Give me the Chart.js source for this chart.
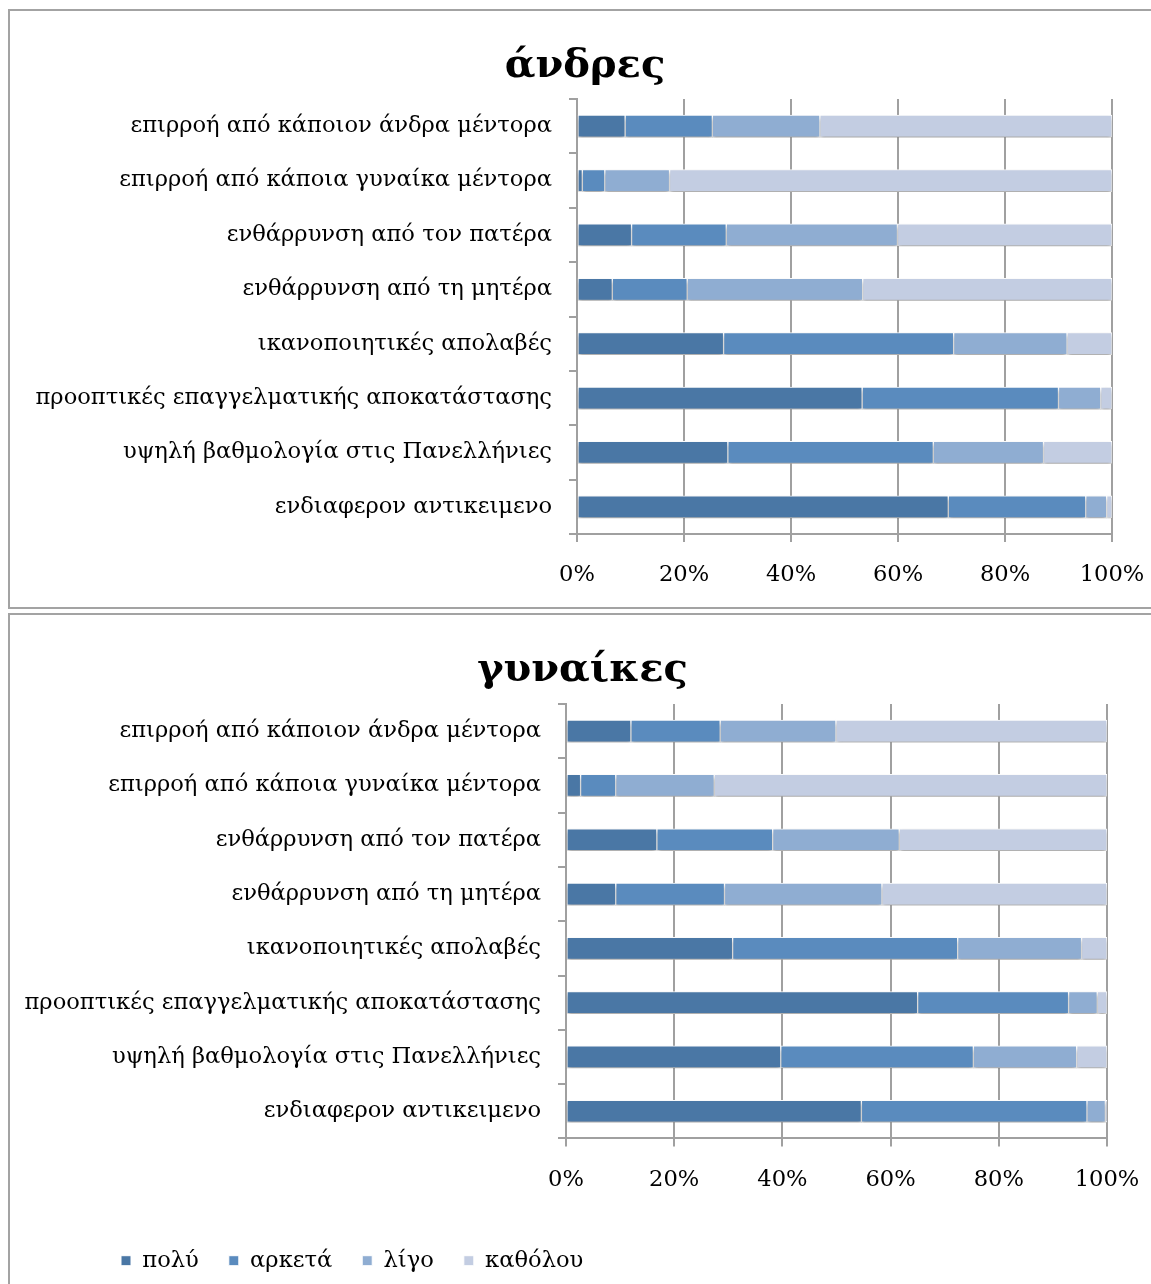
<!DOCTYPE html>
<html>
<head>
<meta charset="utf-8">
<script src="https://cdn.jsdelivr.net/npm/chart.js@4"></script>
<style>
  body { margin: 0; background: #fff; overflow: hidden; width: 1151px; height: 1284px; position: relative; }
  .frame { position: absolute; border: 2px solid #a3a3a3; box-sizing: border-box; }
  canvas { position: absolute; left: 0; }
</style>
</head>
<body>
<div class="frame" style="left:8px; top:9px; width:1160px; height:600px;"></div>
<div class="frame" style="left:8px; top:613px; width:1160px; height:700px;"></div>
<canvas id="men" width="1151" height="607" style="top:0px;"></canvas>
<canvas id="women" width="1151" height="674" style="top:610px;"></canvas>
<script>
var categories = [
    "επιρροή από κάποιον άνδρα μέντορα",
    "επιρροή από κάποια γυναίκα μέντορα",
    "ενθάρρυνση από τον πατέρα",
    "ενθάρρυνση από τη μητέρα",
    "ικανοποιητικές απολαβές",
    "προοπτικές επαγγελματικής αποκατάστασης",
    "υψηλή βαθμολογία στις Πανελλήνιες",
    "ενδιαφερον αντικειμενο"
];
var seriesNames = ["πολύ", "αρκετά", "λίγο", "καθόλου"];
var seriesColors = ['#4a77a5', '#5a8bbe', '#8fadd2', '#c3cde2'];

// άνδρες (%)
var menPoly     = [9.0, 1.0, 10.2, 6.6, 27.4, 53.3, 28.2, 69.4];
var menArketa   = [16.3, 4.2, 17.7, 14.0, 43.0, 36.7, 38.4, 25.7];
var menLigo     = [20.1, 12.1, 32.0, 32.8, 21.2, 7.9, 20.6, 3.9];
var menKatholou = [54.6, 82.7, 40.1, 46.6, 8.4, 2.1, 12.8, 1.0];

// γυναίκες (%)
var womenPoly     = [12.0, 2.7, 16.8, 9.2, 30.8, 65.0, 39.7, 54.6];
var womenArketa   = [16.5, 6.5, 21.4, 20.1, 41.6, 27.9, 35.6, 41.7];
var womenLigo     = [21.4, 18.2, 23.4, 29.1, 22.9, 5.3, 19.1, 3.4];
var womenKatholou = [50.1, 72.6, 38.4, 41.6, 4.7, 1.8, 5.6, 0.3];

Chart.defaults.font.family = '"DejaVu Serif", "Liberation Serif", serif';
Chart.defaults.color = '#000';

var labelSize = 22.6;

var shadowPlugin = {
    id: 'barShadow',
    beforeDatasetsDraw: function(chart) {
        var c = chart.ctx;
        c.save();
        c.shadowColor = 'rgba(0,0,0,0.35)';
        c.shadowBlur = 4;
        c.shadowOffsetY = 3;
    },
    afterDatasetsDraw: function(chart) {
        chart.ctx.restore();
    }
};

// title sits a bit right of centre, legend further right than the label column
var nudgePlugin = {
    id: 'nudge',
    afterLayout: function(chart) {
        if (chart.titleBlock) {
            chart.titleBlock.left += 48;
        }
        if (chart.legend && chart.options.plugins.legend.display) {
            chart.legend.left = 91;
        }
    }
};

function makeDatasets(series) {
    return series.map(function(values, i) {
        return {
            label: seriesNames[i],
            data: values,
            backgroundColor: seriesColors[i],
            borderColor: '#ffffff',
            borderWidth: 1,
            borderSkipped: false,
            barThickness: 22
        };
    });
}

function makeOptions(cfg) {
    return {
        responsive: false,
        animation: false,
        indexAxis: 'y',
        layout: { padding: cfg.padding },
        plugins: {
            title: {
                display: true,
                text: cfg.title,
                font: { size: 40, weight: 'bold' },
                color: '#000',
                padding: cfg.titlePadding
            },
            legend: {
                display: cfg.legend,
                position: 'bottom',
                align: 'start',
                labels: {
                    boxWidth: 10,
                    boxHeight: 10,
                    padding: 30,
                    font: { size: labelSize }
                }
            },
            tooltip: { enabled: false }
        },
        scales: {
            x: {
                stacked: true,
                min: 0,
                max: 100,
                ticks: {
                    stepSize: 20,
                    padding: 20,
                    font: { size: labelSize },
                    callback: function(value) { return value + '%'; }
                },
                grid: { color: '#a0a0a0', lineWidth: 2, tickLength: 8 },
                border: { color: '#a0a0a0', width: 2 },
                afterFit: function(scale) {
                    scale.height = cfg.xHeight;
                    scale.paddingLeft = 0;
                    scale.paddingRight = 0;
                }
            },
            y: {
                stacked: true,
                ticks: { padding: 17, font: { size: labelSize } },
                grid: { drawOnChartArea: false, color: '#a0a0a0', lineWidth: 2, tickLength: 8 },
                border: { color: '#a0a0a0', width: 2 },
                afterFit: function(scale) { scale.width = cfg.yWidth; }
            }
        }
    };
}

var menChart = new Chart(document.getElementById('men').getContext('2d'), {
    type: 'bar',
    data: {
        labels: categories,
        datasets: makeDatasets([menPoly, menArketa, menLigo, menKatholou])
    },
    options: makeOptions({
        title: 'άνδρες',
        padding: { top: 10, left: 10, right: 39, bottom: 16 },
        titlePadding: { top: 33, bottom: 8 },
        legend: false,
        xHeight: 57,
        yWidth: 567
    }),
    plugins: [shadowPlugin, nudgePlugin]
});

var womenChart = new Chart(document.getElementById('women').getContext('2d'), {
    type: 'bar',
    data: {
        labels: categories,
        datasets: makeDatasets([womenPoly, womenArketa, womenLigo, womenKatholou])
    },
    options: makeOptions({
        title: 'γυναίκες',
        padding: { top: 0, left: 10, right: 44, bottom: 2 },
        titlePadding: { top: 37, bottom: 9 },
        legend: true,
        xHeight: 81,
        yWidth: 556
    }),
    plugins: [shadowPlugin, nudgePlugin]
});
</script>
</body>
</html>
